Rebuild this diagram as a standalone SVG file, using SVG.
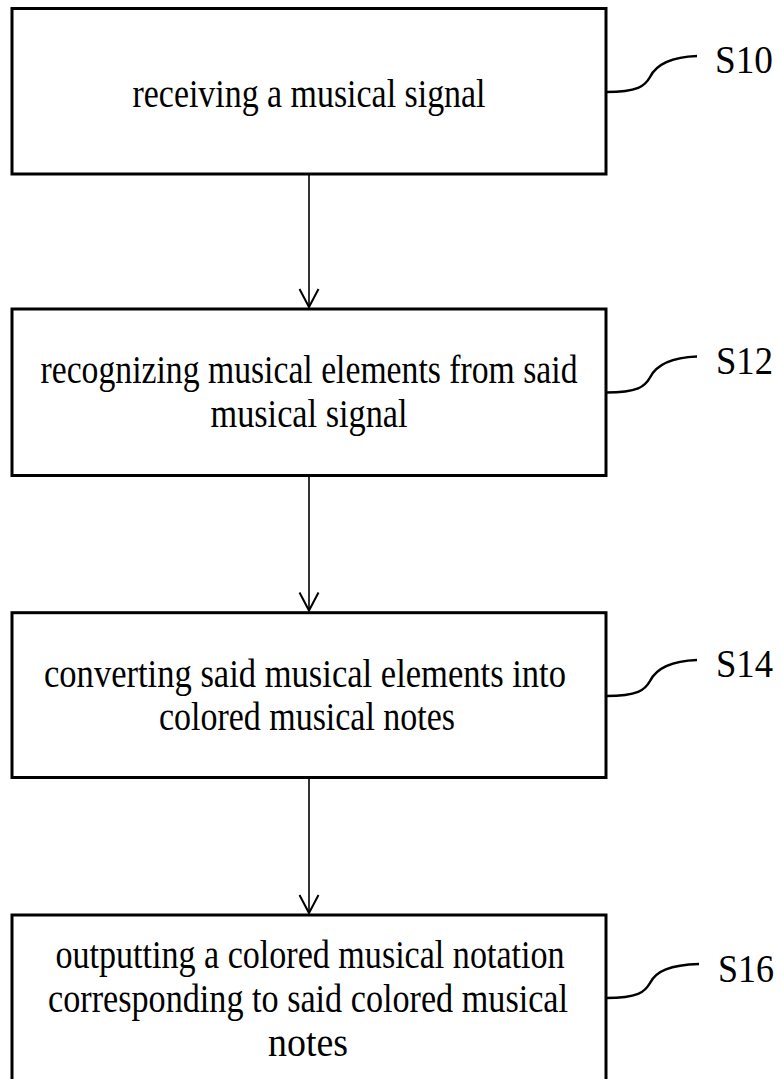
<svg xmlns="http://www.w3.org/2000/svg" width="782" height="1079" viewBox="0 0 782 1079">
<style>
.box{fill:#fff;stroke:#000;stroke-width:3}
.t{font-family:"Liberation Serif","Times New Roman",serif;font-size:41px;fill:#000;text-anchor:middle}
.lbl{font-family:"Liberation Serif","Times New Roman",serif;font-size:41px;fill:#000}
.lead{fill:none;stroke:#000;stroke-width:2.5}
.conn{fill:none;stroke:#000;stroke-width:1.6}
</style>
<defs>
<marker id="arr" markerUnits="userSpaceOnUse" markerWidth="24" markerHeight="24" viewBox="-21 -12 24 24" refX="0" refY="0" orient="auto">
<path d="M-18,-9.5 L0,0 L-18,9.5" fill="none" stroke="#000" stroke-width="2"/>
</marker>
</defs>
<rect width="782" height="1079" fill="#fff"/>
<g id="connectors">
<line class="conn" x1="309" y1="175" x2="309" y2="307" marker-end="url(#arr)"/>
<line class="conn" x1="309" y1="477" x2="309" y2="610.5" marker-end="url(#arr)"/>
<line class="conn" x1="309" y1="779" x2="309" y2="913" marker-end="url(#arr)"/>
</g>
<g id="S10">
<rect class="box" x="12" y="8.5" width="594" height="165.5"/>
<text class="t" x="309" y="107" textLength="353" lengthAdjust="spacingAndGlyphs">receiving a musical signal</text>
<path class="lead" d="M606,92 C638,92 645,86 650,77 C656,65 670,57 697,56"/>
<text class="lbl" x="715" y="73" textLength="58" lengthAdjust="spacingAndGlyphs">S10</text>
</g>
<g id="S12">
<rect class="box" x="12" y="309" width="594" height="166.5"/>
<text class="t" x="309" y="383" textLength="537" lengthAdjust="spacingAndGlyphs">recognizing musical elements from said</text>
<text class="t" x="309" y="427" textLength="197" lengthAdjust="spacingAndGlyphs">musical signal</text>
<path class="lead" d="M606,392.5 C638,392.5 645,386.5 650,377.5 C656,365.5 670,357.5 697,356.5"/>
<text class="lbl" x="716" y="374" textLength="57" lengthAdjust="spacingAndGlyphs">S12</text>
</g>
<g id="S14">
<rect class="box" x="12" y="612.7" width="594" height="164.8"/>
<text class="t" x="305" y="687" textLength="522" lengthAdjust="spacingAndGlyphs">converting said musical elements into</text>
<text class="t" x="307" y="730" textLength="296" lengthAdjust="spacingAndGlyphs">colored musical notes</text>
<path class="lead" d="M606,696 C638,696 645,690 650,681 C656,669 670,661 697,660"/>
<text class="lbl" x="716" y="677" textLength="57" lengthAdjust="spacingAndGlyphs">S14</text>
</g>
<g id="S16">
<rect class="box" x="12" y="915" width="594" height="190"/>
<text class="t" x="310" y="968" textLength="509" lengthAdjust="spacingAndGlyphs">outputting a colored musical notation</text>
<text class="t" x="308" y="1012" textLength="520" lengthAdjust="spacingAndGlyphs">corresponding to said colored musical</text>
<text class="t" x="308" y="1056" textLength="80" lengthAdjust="spacingAndGlyphs">notes</text>
<path class="lead" d="M606,998 C638,998 645,992 650,983 C656,971 670,965 699,964"/>
<text class="lbl" x="718" y="982" textLength="56" lengthAdjust="spacingAndGlyphs">S16</text>
</g>
</svg>
